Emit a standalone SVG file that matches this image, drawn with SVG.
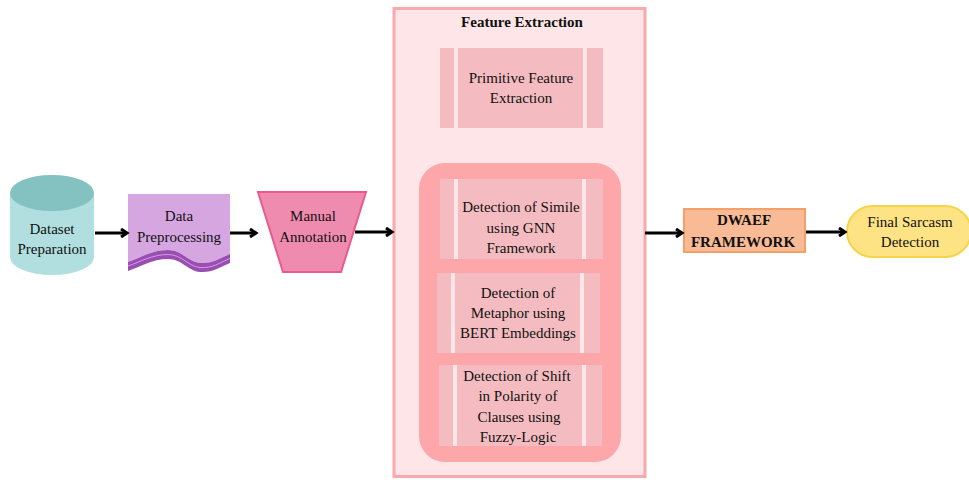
<svg xmlns="http://www.w3.org/2000/svg" width="969" height="482" viewBox="0 0 969 482">
<defs>
<marker id="ah" markerWidth="10" markerHeight="10" refX="7" refY="5" orient="auto" markerUnits="userSpaceOnUse">
<path d="M1,1 L7,5 L1,9" fill="none" stroke="#000" stroke-width="3" stroke-linejoin="miter"/>
</marker>
<style>
text{font-family:"Liberation Serif","Times New Roman",serif;font-size:15px;fill:#111;text-anchor:middle}
.b{font-weight:bold}
.conn{stroke:#000;stroke-width:3;fill:none;marker-end:url(#ah)}
.box{fill:#f4bcc0}
.strip{fill:#fde6e8}
</style>
</defs>
<rect width="969" height="482" fill="#fff"/>

<g id="feature-extraction">
<rect x="394" y="8.5" width="251" height="468" fill="#fee5e8" stroke="#f9a8ab" stroke-width="3"/>
<text class="b" x="522" y="27">Feature Extraction</text>
</g>

<g id="primitive">
<rect class="box" x="440" y="48" width="163" height="80"/>
<rect class="strip" x="454" y="48" width="4" height="80"/>
<rect class="strip" x="583" y="48" width="4" height="80"/>
<text x="521" y="83">Primitive Feature</text>
<text x="521" y="103">Extraction</text>
</g>

<g id="group-container">
<rect x="419" y="163" width="202" height="299" rx="26" fill="#fda7aa"/>
</g>

<g id="simile">
<rect class="box" x="440" y="179" width="163" height="80"/>
<rect class="strip" x="454" y="179" width="4" height="80"/>
<rect class="strip" x="582" y="179" width="4" height="80"/>
<text x="521" y="212">Detection of Simile</text>
<text x="521" y="233">using GNN</text>
<text x="521" y="253">Framework</text>
</g>

<g id="metaphor">
<rect class="box" x="437" y="273" width="163" height="80"/>
<rect class="strip" x="451" y="273" width="4" height="80"/>
<rect class="strip" x="580" y="273" width="4" height="80"/>
<text x="518" y="298">Detection of</text>
<text x="518" y="318">Metaphor using</text>
<text x="518" y="338">BERT Embeddings</text>
</g>

<g id="shift">
<rect class="box" x="439" y="365" width="163" height="81"/>
<rect class="strip" x="453" y="365" width="4" height="81"/>
<rect class="strip" x="582" y="365" width="4" height="81"/>
<text x="517" y="381">Detection of Shift</text>
<text x="518" y="401">in Polarity of</text>
<text x="519" y="422">Clauses using</text>
<text x="518" y="442">Fuzzy-Logic</text>
</g>

<g id="dataset">
<path d="M10,193 V257 A42,18 0 0 0 94,257 V193 Z" fill="#b1dfdf"/>
<ellipse cx="52" cy="193" rx="42" ry="18" fill="#84c1c1"/>
<text x="52" y="234">Dataset</text>
<text x="52" y="254">Preparation</text>
</g>

<g id="preprocessing">
<path d="M128,194 H230 V254 C220,258 212,264 200,263 C188,262 182,250 168,250 C152,250 140,258 128,262 Z" fill="#d5a6e0"/>
<path d="M128,262 C140,258 152,250 168,250 C182,250 188,262 200,263 C212,264 220,258 230,254 V263 C220,267 212,273 200,272 C188,271 182,259 168,259 C152,259 140,267 128,271 Z" fill="#9a4db3"/>
<path d="M128,266 C140,262 152,254.5 168,254.5 C182,254.5 188,266.5 200,267.5 C212,268.5 220,262.5 230,258.5" fill="none" stroke="#dcb2e8" stroke-width="0.8"/>
<text x="179" y="221">Data</text>
<text x="179" y="242">Preprocessing</text>
</g>

<g id="annotation">
<path d="M258,192 H366 L341,272 H283 Z" fill="#f08bb0" stroke="#ea5a8d" stroke-width="2"/>
<text x="313" y="221">Manual</text>
<text x="313" y="242">Annotation</text>
</g>

<g id="dwaef">
<rect x="684" y="209" width="121" height="43" fill="#f9bb95" stroke="#f4a068" stroke-width="2"/>
<text class="b" x="744" y="225">DWAEF</text>
<text class="b" x="743" y="247">FRAMEWORK</text>
</g>

<g id="final">
<rect x="847" y="206" width="124" height="51" rx="25.5" fill="#fee384" stroke="#f5d44a" stroke-width="2"/>
<text x="910" y="227">Final Sarcasm</text>
<text x="910" y="247">Detection</text>
</g>

<g id="connectors">
<line class="conn" x1="95" y1="233" x2="127" y2="233"/>
<line class="conn" x1="230" y1="233" x2="256" y2="233"/>
<line class="conn" x1="355" y1="232" x2="392" y2="232"/>
<line class="conn" x1="645" y1="233" x2="682" y2="233"/>
<line class="conn" x1="806" y1="232" x2="845" y2="232"/>
</g>
</svg>
